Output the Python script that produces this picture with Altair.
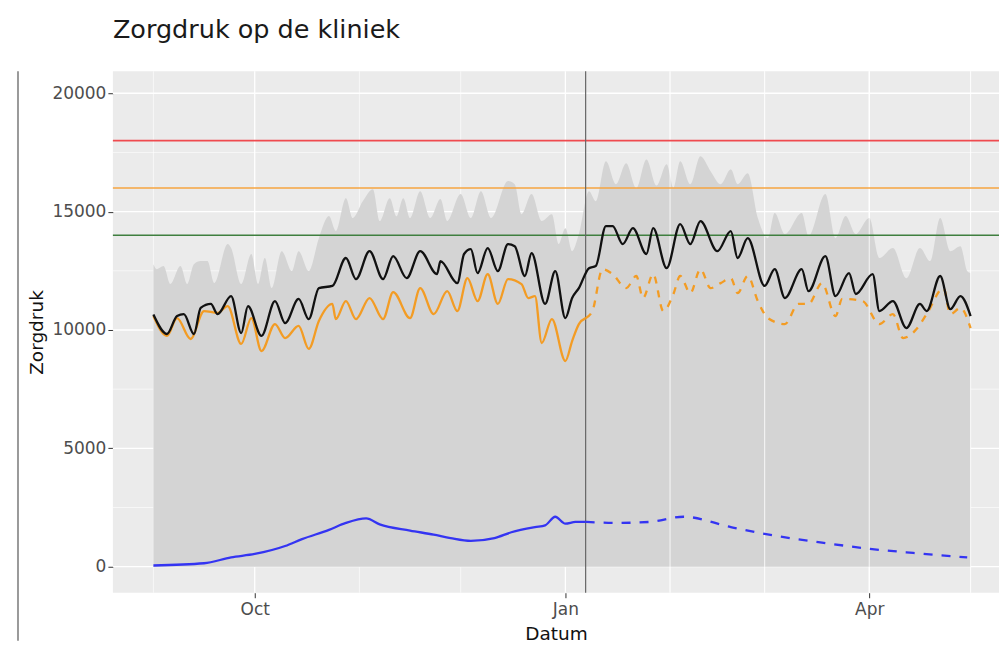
import altair as alt
import pandas as pd

# ---------------- data ----------------
black_dates = ["2020-09-01","2020-09-05","2020-09-08","2020-09-10","2020-09-13","2020-09-15","2020-09-18","2020-09-20",
               "2020-09-24","2020-09-27","2020-09-29","2020-10-03","2020-10-07","2020-10-10","2020-10-14","2020-10-17",
               "2020-10-20","2020-10-24","2020-10-28","2020-10-31","2020-11-04","2020-11-08","2020-11-11","2020-11-15",
               "2020-11-19","2020-11-24","2020-11-25","2020-11-30","2020-12-02","2020-12-04","2020-12-06","2020-12-09",
               "2020-12-12","2020-12-15","2020-12-17","2020-12-20","2020-12-22","2020-12-26","2020-12-29","2021-01-01",
               "2021-01-03","2021-01-05","2021-01-08","2021-01-10","2021-01-13","2021-01-15","2021-01-18","2021-01-21",
               "2021-01-25","2021-01-27","2021-01-31","2021-02-04","2021-02-07","2021-02-10","2021-02-15","2021-02-19",
               "2021-02-21","2021-02-24","2021-03-01","2021-03-04","2021-03-07","2021-03-12","2021-03-14","2021-03-19",
               "2021-03-22","2021-03-26","2021-03-28","2021-04-02","2021-04-04","2021-04-08","2021-04-12","2021-04-16",
               "2021-04-18","2021-04-22","2021-04-25","2021-04-28","2021-05-01"]
black_vals = [10650,9830,10590,10670,9830,10930,11100,10670,
              11430,9870,11010,9750,11220,10290,11310,10460,
              11770,11860,13040,12150,13330,12150,13120,12190,
              13330,12360,12910,11980,13210,13420,12400,13460,
              12490,13630,13540,12280,13250,11100,12490,10500,
              11350,11770,12610,12700,14390,14390,13630,14300,
              13210,14300,12610,14470,13630,14600,13330,14180,
              13040,13880,11860,12570,11350,12570,11640,13120,
              11430,12400,11520,12360,10800,11220,10080,11100,
              10800,12280,10880,11430,10590]

orange_hist_dates = ["2020-09-01","2020-09-05","2020-09-08","2020-09-12","2020-09-16","2020-09-20","2020-09-23","2020-09-27",
                     "2020-09-30","2020-10-03","2020-10-07","2020-10-10","2020-10-14","2020-10-17","2020-10-20","2020-10-24",
                     "2020-10-25","2020-10-28","2020-10-31","2020-11-04","2020-11-08","2020-11-11","2020-11-16","2020-11-19",
                     "2020-11-23","2020-11-27","2020-11-30","2020-12-03","2020-12-06","2020-12-09","2020-12-12","2020-12-15",
                     "2020-12-19","2020-12-21","2020-12-23","2020-12-25","2020-12-28","2021-01-01","2021-01-03","2021-01-05",
                     "2021-01-07"]
orange_hist_vals = [10590,9750,10500,9620,10800,10720,11010,9410,
                    10500,9110,10250,9660,10170,9200,10380,11100,
                    10460,11220,10460,11350,10460,11600,10500,11770,
                    10670,11640,10800,12190,11220,12360,11100,12150,
                    11940,11350,11430,9450,10460,8690,9530,10250,
                    10500]

orange_fc_dates = ["2021-01-07","2021-01-09","2021-01-12","2021-01-15","2021-01-19","2021-01-22","2021-01-24","2021-01-27",
                   "2021-01-30","2021-02-02","2021-02-04","2021-02-07","2021-02-10","2021-02-13","2021-02-16","2021-02-19",
                   "2021-02-21","2021-02-24","2021-02-27","2021-03-02","2021-03-07","2021-03-11","2021-03-14","2021-03-18",
                   "2021-03-22","2021-03-24","2021-03-30","2021-04-04","2021-04-08","2021-04-11","2021-04-15","2021-04-18",
                   "2021-04-23","2021-04-25","2021-04-28","2021-05-01"]
orange_fc_vals = [10500,10800,12570,12360,11770,12280,11350,12360,
                  10800,11520,12280,11560,12570,11770,11980,12190,
                  11560,12280,11220,10500,10250,11100,11100,11980,
                  10590,11310,11220,10250,10670,9660,10040,10670,
                  11770,10670,10930,10080]

blue_hist_dates = ["2020-09-01","2020-09-16","2020-09-24","2020-10-01","2020-10-10","2020-10-15","2020-10-23","2020-10-28",
                   "2020-11-03","2020-11-07","2020-11-16","2020-11-23","2020-11-28","2020-12-04","2020-12-11","2020-12-16",
                   "2020-12-23","2020-12-26","2020-12-29","2021-01-01","2021-01-04","2021-01-07"]
blue_hist_vals = [50,145,393,538,873,1164,1557,1848,
                  2037,1790,1528,1353,1208,1091,1208,1455,
                  1673,1746,2110,1819,1892,1892]

blue_fc_dates = ["2021-01-07","2021-01-16","2021-01-26","2021-02-05","2021-02-19","2021-03-04","2021-03-18","2021-04-01",
                 "2021-04-14","2021-04-30"]
blue_fc_vals = [1892,1848,1892,2110,1673,1310,1019,757,582,393]

ribbon_dates = ["2020-09-01","2020-09-02","2020-09-04","2020-09-06","2020-09-09","2020-09-11","2020-09-13","2020-09-15",
                "2020-09-17","2020-09-19","2020-09-23","2020-09-24","2020-09-27","2020-09-30","2020-10-02","2020-10-04",
                "2020-10-06","2020-10-09","2020-10-12","2020-10-14","2020-10-17","2020-10-20","2020-10-23","2020-10-25",
                "2020-10-28","2020-10-30","2020-11-02","2020-11-05","2020-11-07","2020-11-10","2020-11-12","2020-11-14",
                "2020-11-16","2020-11-19","2020-11-22","2020-11-25","2020-11-27","2020-12-01","2020-12-04","2020-12-07",
                "2020-12-10","2020-12-15","2020-12-17","2020-12-19","2020-12-22","2020-12-25","2020-12-28","2020-12-30",
                "2021-01-01","2021-01-03","2021-01-05","2021-01-08","2021-01-10","2021-01-13","2021-01-16","2021-01-19",
                "2021-01-22","2021-01-25","2021-01-28","2021-01-31","2021-02-02","2021-02-04","2021-02-07","2021-02-10",
                "2021-02-13","2021-02-16","2021-02-19","2021-02-21","2021-02-24","2021-02-27","2021-03-02","2021-03-04",
                "2021-03-07","2021-03-12","2021-03-14","2021-03-19","2021-03-22","2021-03-25","2021-03-28","2021-04-01",
                "2021-04-04","2021-04-08","2021-04-12","2021-04-16","2021-04-19","2021-04-22","2021-04-25","2021-04-28",
                "2021-04-30","2021-05-01"]
ribbon_vals = [12780,12570,12700,11940,12700,11940,12780,12910,
               12910,11980,13630,13460,11940,13210,11940,13040,
               11770,13330,12490,13330,12490,13880,14810,14180,
               15570,14730,15440,15950,14600,15570,14800,15570,
               14730,15860,14730,15530,14600,15740,14730,15860,
               14730,16290,16160,14890,15740,14600,14890,13630,
               14300,13330,14050,15860,15440,17130,16160,17040,
               15990,17200,16100,17000,16000,17130,16160,17340,
               16710,16160,16790,16160,16620,14730,13880,14940,
               14050,14940,13960,15740,13880,14810,14050,14730,
               13040,13460,12190,13460,12910,14730,13330,13540,
               12490,12400]

threshold_vals = [18000, 16000, 14000]
threshold_colors = ["#ef4a4f", "#f6a440", "#3f7f3f"]

forecast_start = ["2021-01-07"]

y_major = [0, 5000, 10000, 15000, 20000]
y_minor = [2500, 7500, 12500, 17500]
x_major = ["2020-10-01", "2021-01-01", "2021-04-01"]
x_minor = ["2020-09-01", "2020-11-01", "2020-12-01", "2021-02-01", "2021-03-01", "2021-05-01"]
x_minor_over = ["2021-02-01", "2021-03-01", "2021-04-01", "2021-05-01"]

# ---------------- chart ----------------
FONT = "DejaVu Sans"
xs = alt.Scale(type="utc",
               domain=[alt.DateTime(year=2020, month=8, date=20, utc=True),
                       alt.DateTime(year=2021, month=5, date=9, hours=10, utc=True)])
ys = alt.Scale(domain=[-1100, 20930], nice=False, zero=False)

x_axis = alt.Axis(values=[alt.DateTime(year=2020, month=10, date=1, utc=True),
                          alt.DateTime(year=2021, month=1, date=1, utc=True),
                          alt.DateTime(year=2021, month=4, date=1, utc=True)],
                  labelExpr="utcFormat(datum.value, '%b')", title="Datum", grid=False,
                  domain=False, tickColor="#333333", tickSize=5, labelPadding=4,
                  labelColor="#4d4d4d", labelFontSize=17, labelFont=FONT,
                  titleFont=FONT, titleFontSize=18.5, titleFontWeight="normal", titleColor="#111111",
                  titlePadding=7)
y_axis = alt.Axis(values=y_major, format="d", title="Zorgdruk", grid=False, domain=False,
                  tickColor="#333333", tickSize=5, labelPadding=2,
                  labelColor="#4d4d4d", labelFontSize=17, labelFont=FONT,
                  titleFont=FONT, titleFontSize=18.5, titleFontWeight="normal", titleColor="#111111",
                  titlePadding=5)


def X(field="d"):
    return alt.X(f"{field}:T", scale=xs, axis=x_axis)


def Y(field="v"):
    return alt.Y(f"{field}:Q", scale=ys, axis=y_axis)


def df_dates(dates, vals=None):
    d = {"d": dates}
    if vals is not None:
        d["v"] = vals
    return pd.DataFrame(d)


ygrid_major = alt.Chart(pd.DataFrame({"v": y_major})).mark_rule(color="white", strokeWidth=1.3).encode(y=Y())
ygrid_minor = alt.Chart(pd.DataFrame({"v": y_minor})).mark_rule(color="white", strokeWidth=0.6).encode(y=Y())
xgrid_major = alt.Chart(df_dates(x_major)).mark_rule(color="white", strokeWidth=1.3).encode(x=X())
xgrid_minor = alt.Chart(df_dates(x_minor)).mark_rule(color="white", strokeWidth=0.6).encode(x=X())

ribbon = alt.Chart(df_dates(ribbon_dates, ribbon_vals)).mark_area(
    color="#d4d4d4", opacity=1, interpolate="monotone").encode(x=X(), y=Y(), y2=alt.datum(0))

month_over = alt.Chart(df_dates(x_minor_over)).mark_rule(color="white", strokeWidth=1.2, opacity=0.7).encode(x=X())

thresholds = alt.Chart(pd.DataFrame({"v": threshold_vals, "c": threshold_colors})).mark_rule(strokeWidth=1.6).encode(
    y=Y(), color=alt.Color("c:N", scale=None))

vline = alt.Chart(df_dates(forecast_start)).mark_rule(color="#666666", strokeWidth=1.2).encode(x=X())


def line(dates, vals, color, dash=None, width=2.3):
    kw = dict(color=color, strokeWidth=width, interpolate="monotone")
    if dash:
        kw["strokeDash"] = dash
    return alt.Chart(df_dates(dates, vals)).mark_line(**kw).encode(x=X(), y=Y())


orange_h = line(orange_hist_dates, orange_hist_vals, "#f39c24")
orange_f = line(orange_fc_dates, orange_fc_vals, "#f39c24", dash=[7, 7])
black = line(black_dates, black_vals, "#111111")
blue_h = line(blue_hist_dates, blue_hist_vals, "#3434f2")
blue_f = line(blue_fc_dates, blue_fc_vals, "#3434f2", dash=[9, 9])

frame = alt.Chart(pd.DataFrame({"k": [1]})).mark_rule(color="#9a9a9a", strokeWidth=2).encode(
    x=alt.value(-95), y=alt.value(0), y2=alt.value(570))

chart = alt.layer(
    ygrid_major, ygrid_minor, xgrid_major, xgrid_minor, ribbon, month_over,
    thresholds, vline, orange_h, orange_f, black, blue_h, blue_f, frame
).properties(
    width=887, height=522,
    title=alt.TitleParams("Zorgdruk op de kliniek", anchor="start", frame="group", font=FONT,
                          fontSize=25.5, fontWeight="normal", color="#1a1a1a", baseline="alphabetic",
                          offset=7),
    padding={"left": 9, "top": 9, "right": 0, "bottom": 0},
    background="white",
).configure_view(fill="#ebebeb", stroke=None)

chart.save("out.html", embed_options={"renderer": "svg", "actions": False})
